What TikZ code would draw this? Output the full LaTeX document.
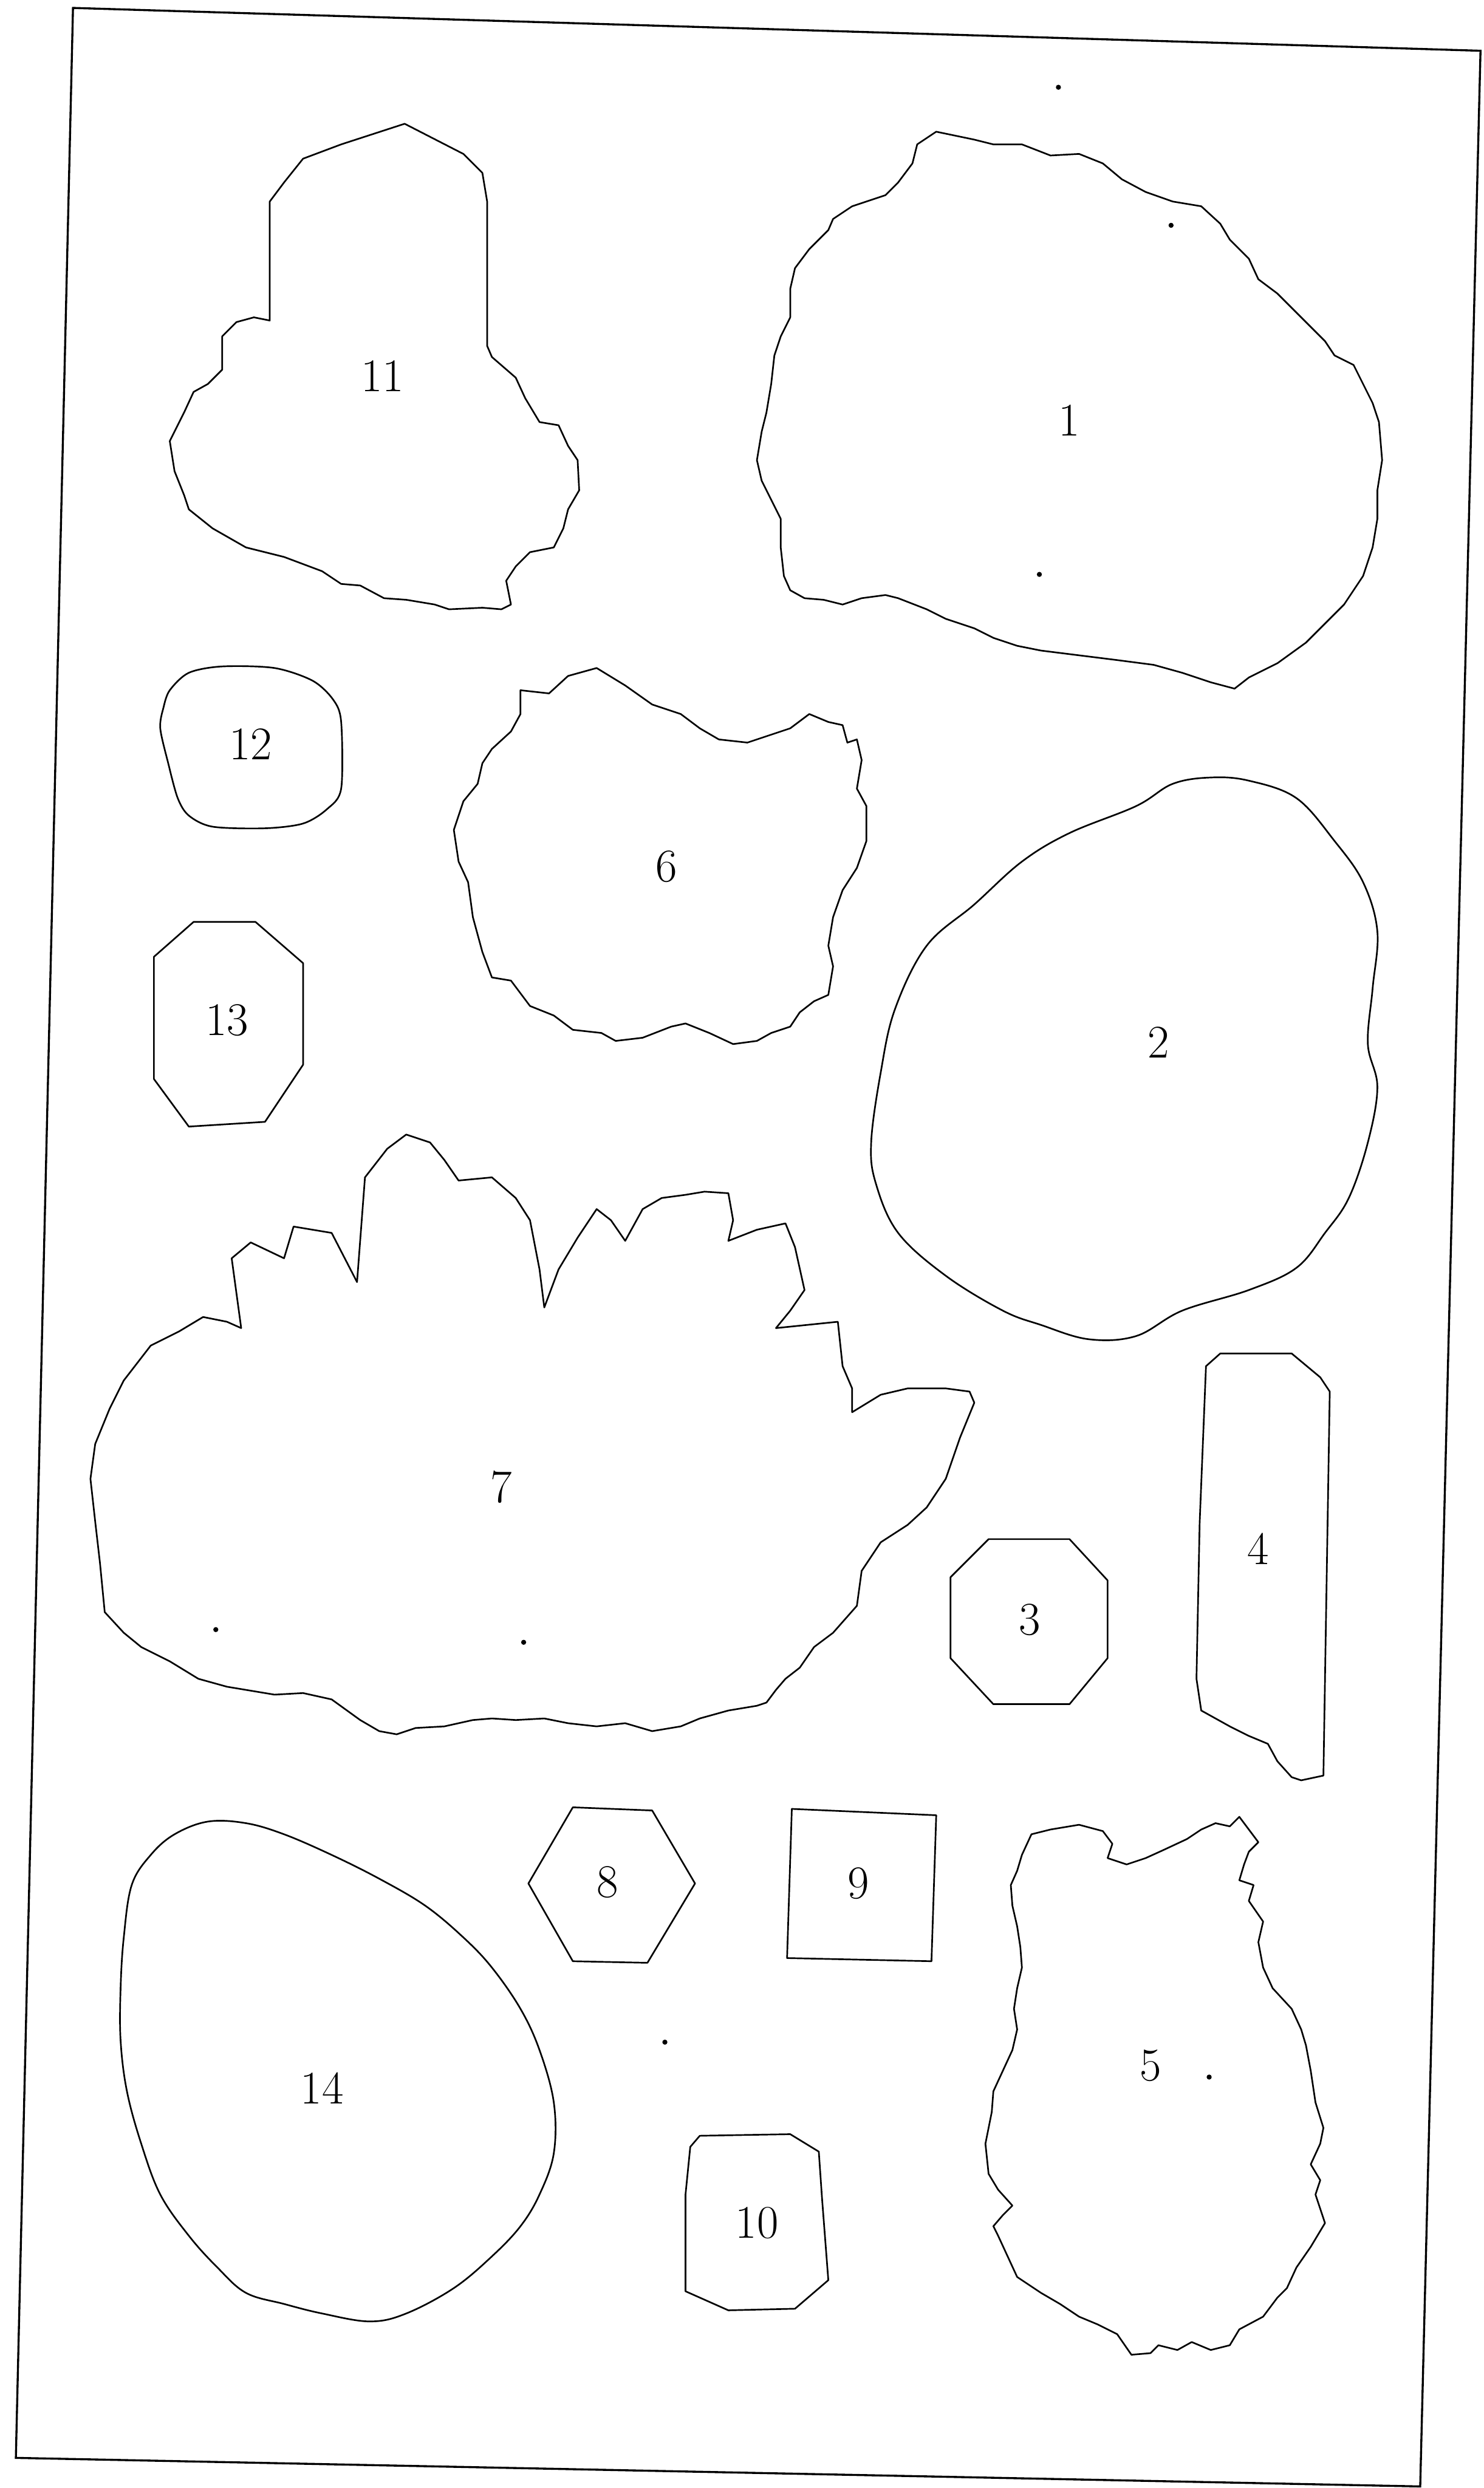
\documentclass[tikz,border=0pt]{standalone}
\begin{document}
\begin{tikzpicture}[x=0.0274cm, y=-0.0274cm,
    outline/.style={line width=0.8pt, line join=round},
    lbl/.style={font=\fontsize{23}{26}\selectfont, inner sep=0pt},
    speck/.style={fill=black}]
  \useasboundingbox (0,0) rectangle (935,1568);
  % sheet border
  \draw[line width=1pt] (46,5) -- (933,32) -- (895,1567) -- (10,1549) -- cycle;

  % piece 11
  \draw[outline] (255,78) -- (292,97) -- (304,109) -- (307,127) -- (307,218) -- (310,225)
    -- (325,238) -- (331,251) -- (340,266) -- (352,268) -- (358,281) -- (364,290)
    -- (365,309) -- (358,321) -- (355,333) -- (349,345) -- (334,348) -- (325,357)
    -- (319,366) -- (322,381) -- (316,384) -- (304,383) -- (283,384) -- (274,381)
    -- (256,378) -- (242,377) -- (227,369) -- (215,368) -- (203,360) -- (179,351)
    -- (155,345) -- (134,333) -- (119,321) -- (116,312) -- (110,297) -- (107,278)
    -- (116,260) -- (122,247) -- (131,242) -- (140,233) -- (140,212) -- (149,203)
    -- (160,200) -- (170,202) -- (170,127) -- (179,115) -- (191,100) -- (215,91) -- cycle;
  \node[lbl] (l11) at (241,237) {11};

  % piece 1
  \draw[outline] (590,83) -- (614,88) -- (626,91) -- (644,91) -- (662,98) -- (680,97)
    -- (695,103) -- (707,113) -- (722,121) -- (739,127) -- (757,130) -- (769,141)
    -- (775,151) -- (787,163) -- (793,176) -- (805,185) -- (814,194) -- (826,206)
    -- (835,215) -- (841,224) -- (853,230) -- (859,242) -- (865,254) -- (869,266)
    -- (871,290) -- (868,309) -- (868,327) -- (865,345) -- (859,363) -- (847,381)
    -- (835,393) -- (823,405) -- (805,418) -- (787,427) -- (778,434) -- (763,430)
    -- (745,424) -- (727,419) -- (704,416) -- (680,413) -- (656,410) -- (641,407)
    -- (626,402) -- (614,396) -- (596,390) -- (584,384) -- (566,377) -- (558,375)
    -- (543,377) -- (531,381) -- (519,378) -- (507,377) -- (498,372) -- (494,363)
    -- (492,345) -- (492,327) -- (486,315) -- (480,303) -- (477,290) -- (480,272)
    -- (483,260) -- (486,242) -- (488,224) -- (492,212) -- (498,200) -- (498,182)
    -- (501,169) -- (510,157) -- (522,145) -- (525,138) -- (537,130) -- (546,127)
    -- (558,123) -- (566,115) -- (575,103) -- (578,91) -- cycle;
  \node[lbl] (l1) at (674,265) {1};

  % piece 12
  \draw[outline] plot[smooth cycle, tension=0.5] coordinates {(107,435) (119,424)
    (140,420) (173,421) (197,429) (210,441) (215,455) (215,497) (206,510) (191,519)
    (167,522) (134,521) (119,514) (112,503) (106,481) (101,459) (103,446)};
  \node[lbl] (l12) at (158,469) {12};

  % piece 13
  \draw[outline] (122,581) -- (161,581) -- (191,607) -- (191,671) -- (167,707)
    -- (119,710) -- (97,680) -- (97,603) -- cycle;
  \node[lbl] (l13) at (143,643) {13};

  % piece 6
  \draw[outline] (328,435) -- (346,437) -- (358,426) -- (376,421) -- (394,432) -- (411,444)
    -- (429,450) -- (441,459) -- (453,466) -- (471,468) -- (486,463) -- (498,459)
    -- (510,450) -- (522,455) -- (531,457) -- (534,468) -- (540,466) -- (543,479)
    -- (540,497) -- (546,508) -- (546,530) -- (540,547) -- (531,561) -- (525,578)
    -- (522,596) -- (525,609) -- (522,627) -- (513,631) -- (504,638) -- (498,647)
    -- (486,651) -- (477,656) -- (462,658) -- (447,651) -- (432,645) -- (423,647)
    -- (405,654) -- (388,656) -- (379,651) -- (361,649) -- (349,640) -- (334,634)
    -- (322,618) -- (310,616) -- (304,600) -- (298,578) -- (295,556) -- (289,543)
    -- (286,523) -- (292,505) -- (301,494) -- (304,481) -- (310,472) -- (322,461)
    -- (328,450) -- cycle;
  \node[lbl] (l6) at (420,546) {6};

  % piece 2
  \draw[outline] plot[smooth cycle, tension=0.6] coordinates {(763,490) (787,492)
    (817,503) (841,530) (859,556) (868,587) (865,623) (862,658) (868,685) (862,720)
    (850,755) (835,777) (817,799) (787,813) (745,826) (716,842) (686,844) (656,835)
    (632,826) (596,804) (566,777) (552,746) (549,720) (555,676) (564,636) (584,596)
    (614,570) (644,543) (674,525) (716,508) (739,494)};
  \node[lbl] (l2) at (730,657) {2};

  % piece 7
  \draw[outline] (78,870) -- (95,848) -- (113,839) -- (128,830) -- (143,833) -- (152,837)
    -- (146,793) -- (158,783) -- (179,793) -- (185,773) -- (209,777) -- (225,808)
    -- (230,742) -- (244,724) -- (256,715) -- (271,720) -- (280,731) -- (289,744)
    -- (310,742) -- (325,755) -- (334,769) -- (340,800) -- (343,824) -- (352,800)
    -- (364,780) -- (376,762) -- (385,769) -- (394,782) -- (405,762) -- (417,755)
    -- (432,753) -- (444,751) -- (459,752) -- (462,769) -- (459,782) -- (477,775)
    -- (495,771) -- (501,786) -- (507,813) -- (498,826) -- (489,837) -- (528,833)
    -- (531,861) -- (537,875) -- (537,890) -- (555,879) -- (572,875) -- (596,875)
    -- (611,877) -- (614,884) -- (605,906) -- (596,932) -- (584,950) -- (572,961)
    -- (555,972) -- (543,990) -- (540,1012) -- (525,1029) -- (513,1038) -- (504,1051)
    -- (495,1058) -- (489,1065) -- (483,1073) -- (477,1075) -- (459,1078) -- (441,1083)
    -- (429,1088) -- (411,1091) -- (394,1086) -- (376,1088) -- (358,1086) -- (343,1083)
    -- (325,1084) -- (310,1083) -- (298,1084) -- (280,1088) -- (262,1089) -- (250,1093)
    -- (239,1091) -- (227,1084) -- (209,1071) -- (191,1067) -- (173,1068) -- (143,1063)
    -- (125,1058) -- (107,1047) -- (89,1038) -- (78,1029) -- (66,1016) -- (63,985)
    -- (60,959) -- (57,932) -- (60,910) -- (69,888) -- cycle;
  \node[lbl] (l7) at (316,937) {7};

  % piece 3
  \draw[outline] (623,970) -- (674,970) -- (698,996) -- (698,1045) -- (674,1074)
    -- (626,1074) -- (599,1045) -- (599,994) -- cycle;
  \node[lbl] (l3) at (649,1021) {3};

  % piece 4
  \draw[outline] (760,861) -- (769,853) -- (814,853) -- (832,868) -- (838,877) -- (835,1058)
    -- (834,1119) -- (820,1122) -- (814,1120) -- (805,1110) -- (799,1099) -- (787,1094)
    -- (775,1088) -- (757,1078) -- (754,1058) -- (756,960) -- cycle;
  \node[lbl] (l4) at (793,976) {4};

  % piece 8
  \draw[outline] (361,1139) -- (411,1141) -- (438,1187) -- (408,1237) -- (361,1236)
    -- (333,1187) -- cycle;
  \node[lbl] (l8) at (383,1186) {8};

  % piece 9
  \draw[outline] (499,1140) -- (590,1144) -- (587,1236) -- (496,1234) -- cycle;
  \node[lbl] (l9) at (541,1187) {9};

  % piece 14
  \draw[outline] plot[smooth cycle, tension=0.6] coordinates {(131,1148) (155,1149)
    (179,1156) (209,1169) (239,1184) (268,1201) (292,1221) (310,1240) (328,1266)
    (340,1292) (349,1325) (349,1357) (340,1383) (328,1403) (310,1422) (286,1442)
    (256,1458) (233,1463) (203,1458) (179,1452) (155,1445) (137,1429) (119,1409)
    (101,1383) (89,1351) (80,1318) (76,1286) (76,1253) (78,1221) (83,1188) (95,1169)
    (110,1156)};
  \node[lbl] (l14) at (203,1316) {14};

  % piece 10
  \draw[outline] (441,1346) -- (498,1345) -- (516,1356) -- (518,1385) -- (522,1437)
    -- (501,1455) -- (459,1456) -- (432,1444) -- (432,1383) -- (435,1353) -- cycle;
  \node[lbl] (l10) at (477,1401) {10};

  % piece 5
  \draw[outline] (650,1156) -- (662,1153) -- (680,1150) -- (695,1154) -- (701,1162)
    -- (698,1171) -- (710,1175) -- (722,1171) -- (733,1166) -- (748,1159) -- (757,1153)
    -- (766,1149) -- (775,1151) -- (781,1145) -- (787,1153) -- (793,1161) -- (787,1167)
    -- (784,1175) -- (781,1185) -- (790,1188) -- (787,1198) -- (796,1211) -- (793,1224)
    -- (796,1240) -- (802,1253) -- (814,1266) -- (820,1279) -- (823,1289) -- (826,1305)
    -- (829,1325) -- (834,1341) -- (832,1351) -- (826,1364) -- (832,1374) -- (829,1383)
    -- (835,1401) -- (826,1416) -- (817,1429) -- (811,1442) -- (805,1448) -- (796,1460)
    -- (781,1468) -- (775,1478) -- (763,1481) -- (751,1476) -- (742,1481) -- (730,1478)
    -- (725,1483) -- (713,1484) -- (704,1471) -- (692,1465) -- (680,1460) -- (668,1452)
    -- (656,1445) -- (641,1435) -- (635,1422) -- (629,1409) -- (626,1403) -- (632,1396)
    -- (638,1390) -- (629,1380) -- (623,1370) -- (621,1351) -- (625,1331) -- (626,1318)
    -- (632,1305) -- (638,1292) -- (641,1279) -- (639,1266) -- (641,1253) -- (644,1240)
    -- (643,1227) -- (641,1214) -- (638,1201) -- (637,1188) -- (641,1179) -- (644,1169) -- cycle;
  \node[lbl] (l5) at (725,1302) {5};

  % specks of the scan
  \foreach \p in {(667,55), (738,142), (655,362), (419,1287), (762,1309), (136,1027), (330,1035)}
    \fill[speck] \p circle (1.6);
\end{tikzpicture}
\end{document}
